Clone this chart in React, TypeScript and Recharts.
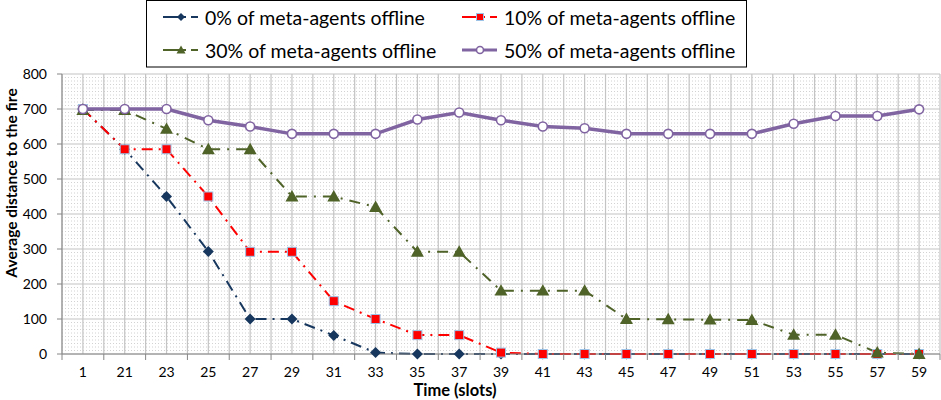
import React from 'react';
import { LineChart, Line, XAxis, YAxis, CartesianGrid } from 'recharts';

const CATS = ['1', '21', '23', '25', '27', '29', '31', '33', '35', '37', '39', '41', '43', '45', '47', '49', '51', '53', '55', '57', '59'];
const S0 = [700, 585, 450, 293, 100, 100, 53, 4, 0, 0, 0, 0, 0, 0, 0, 0, 0, 0, 0, 0, 0];
const S10 = [700, 585, 585, 450, 292, 292, 151, 100, 54, 54, 4, 0, 0, 0, 0, 0, 0, 0, 0, 0, 0];
const S30 = [697, 697, 643, 585, 585, 450, 450, 420, 292, 292, 181, 181, 181, 100, 99, 98, 97, 55, 55, 4, 0];
const S50 = [700, 700, 700, 668, 650, 629, 629, 629, 670, 690, 668, 650, 645, 629, 629, 629, 629, 658, 680, 680, 699];
const Y_TICKS = [0, 100, 200, 300, 400, 500, 600, 700, 800];
const LABELS = ['0% of meta-agents offline', '10% of meta-agents offline', '30% of meta-agents offline', '50% of meta-agents offline'];

const data = CATS.map((t, i) => ({ t, s0: S0[i], s10: S10[i], s30: S30[i], s50: S50[i] }));

const MINOR: number[] = [];
for (let v = 10; v < 800; v += 10) if (v % 100 !== 0) MINOR.push(v);

const W = 941;
const H = 400;
const M = { top: 74, right: 1, bottom: 0, left: 0 };
const YW = 62;
const XH = 46;
const PLOT_W = W - M.left - M.right - YW;
const HALF = PLOT_W / CATS.length / 2;
const Y_MAX = 800;
const FONT = 'Lato, "Open Sans", sans-serif';

const NAVY = '#17375E';
const RED = '#FF0000';
const GREEN = '#4F6228';
const PURPLE = '#8064A2';

const Diamond = ({ cx, cy, s = 5.5 }: any) => (
  <path d={`M${cx} ${cy - s}L${cx + s} ${cy}L${cx} ${cy + s}L${cx - s} ${cy}Z`} fill={NAVY} />
);
const Square = ({ cx, cy, s = 4.5 }: any) => (
  <rect x={cx - s} y={cy - s} width={2 * s} height={2 * s} fill={RED} stroke="#9DC3E6" strokeWidth={1} />
);
const Tri = ({ cx, cy, s = 6.5 }: any) => (
  <path d={`M${cx} ${cy - s}L${cx + s} ${cy + s * 0.75}L${cx - s} ${cy + s * 0.75}Z`} fill={GREEN} />
);
const Circ = ({ cx, cy, r = 4.5 }: any) => (
  <circle cx={cx} cy={cy} r={r} fill="#fff" stroke={PURPLE} strokeWidth={1.6} />
);

const dotOf = (Comp: any) => (p: any) => {
  if (p.cx == null || p.cy == null) return <g key={p.index} />;
  return <Comp key={p.index} cx={p.cx} cy={p.cy} />;
};

const XTick = (p: any) => {
  const { x, payload, index } = p;
  return (
    <g>
      <line x1={x - HALF} x2={x - HALF} y1={354} y2={360} stroke="#868686" strokeWidth={1} />
      {index === CATS.length - 1 && (
        <line x1={x + HALF} x2={x + HALF} y1={354} y2={360} stroke="#868686" strokeWidth={1} />
      )}
      <text x={x} y={377} textAnchor="middle" fontSize={14} fontFamily={FONT} fill="#000">
        {payload.value}
      </text>
    </g>
  );
};

const vGen = ({ offset }: any) => {
  const out: number[] = [];
  const step = offset.width / CATS.length / 2;
  for (let i = 0; i <= CATS.length * 2; i++) out.push(offset.left + i * step);
  return out;
};
const yPix = (offset: any, v: number) => offset.top + offset.height * (1 - v / Y_MAX);
const hMinor = ({ offset }: any) => MINOR.map((v) => yPix(offset, v));
const hMajor = ({ offset }: any) => Y_TICKS.map((v) => yPix(offset, v));

const LegendIcon = ({ x, y, kind }: any) => {
  const mid = x + 18;
  const col = [NAVY, RED, GREEN, PURPLE][kind];
  if (kind === 3)
    return (
      <g>
        <line x1={x} x2={x + 35} y1={y} y2={y} stroke={PURPLE} strokeWidth={3} />
        <Circ cx={mid} cy={y} r={3.5} />
      </g>
    );
  return (
    <g>
      <line x1={x} x2={x + 23} y1={y} y2={y} stroke={col} strokeWidth={2} />
      <line x1={x + 28} x2={x + 35} y1={y} y2={y} stroke={col} strokeWidth={2} />
      {kind === 0 && <Diamond cx={mid} cy={y} s={4} />}
      {kind === 1 && <Square cx={mid} cy={y} s={3.5} />}
      {kind === 2 && <Tri cx={mid} cy={y} s={4.5} />}
    </g>
  );
};

const Legend = () => {
  const items = [
    { k: 0, x: 17, y: 17 },
    { k: 1, x: 316, y: 17 },
    { k: 2, x: 17, y: 50 },
    { k: 3, x: 316, y: 50 },
  ];
  return (
    <svg width={602} height={68} style={{ position: 'absolute', left: 146, top: 0 }}>
      <rect x={0.5} y={0.5} width={600} height={66.5} fill="#fff" stroke="#000" strokeWidth={1} />
      {items.map((it) => (
        <g key={it.k}>
          <LegendIcon x={it.x} y={it.y} kind={it.k} />
          <text x={it.x + 42} y={it.y} dominantBaseline="central" fontSize={19.5} fontFamily={FONT} fill="#000">
            {LABELS[it.k]}
          </text>
        </g>
      ))}
    </svg>
  );
};

export default function App() {
  return (
    <div style={{ position: 'absolute', left: 0, top: 0, width: W, height: H, background: '#fff' }}>
      <LineChart width={W} height={H} data={data} margin={M}>
        <CartesianGrid
          vertical={false}
          horizontalCoordinatesGenerator={hMinor}
          stroke="#d2d2d2"
          strokeDasharray="1 2"
        />
        <CartesianGrid
          verticalCoordinatesGenerator={vGen}
          horizontalCoordinatesGenerator={hMajor}
          stroke="#c4c4c4"
          strokeWidth={1.2}
        />
        <XAxis
          dataKey="t"
          height={XH}
          padding={{ left: HALF, right: HALF }}
          tick={<XTick />}
          tickLine={false}
          interval={0}
          stroke="#868686"
          label={{
            content: () => (
              <text x={455} y={396} textAnchor="middle" fontSize={16.5} fontWeight="bold" fontFamily={FONT} fill="#000">
                Time (slots)
              </text>
            ),
          }}
        />
        <YAxis
          width={YW}
          domain={[0, Y_MAX]}
          ticks={Y_TICKS}
          interval={0}
          tickSize={5}
          tickMargin={10}
          stroke="#868686"
          tick={{ fontSize: 14, fontFamily: FONT, fill: '#000' }}
          label={{
            content: () => (
              <text
                x={11}
                y={183}
                transform="rotate(-90 11 183)"
                textAnchor="middle"
                dominantBaseline="central"
                fontSize={15.5}
                fontWeight="bold"
                fontFamily={FONT}
                fill="#000"
              >
                Average distance to the fire
              </text>
            ),
          }}
        />
        <Line dataKey="s0" stroke={NAVY} strokeWidth={2} strokeDasharray="11 6 2 6" dot={dotOf(Diamond)} isAnimationActive={false} />
        <Line dataKey="s10" stroke={RED} strokeWidth={2} strokeDasharray="11 6 2 6" dot={dotOf(Square)} isAnimationActive={false} />
        <Line dataKey="s30" stroke={GREEN} strokeWidth={2} strokeDasharray="11 7 2 7" dot={dotOf(Tri)} isAnimationActive={false} />
        <Line dataKey="s50" stroke={PURPLE} strokeWidth={3.5} dot={dotOf(Circ)} isAnimationActive={false} />
      </LineChart>
      <Legend />
    </div>
  );
}
